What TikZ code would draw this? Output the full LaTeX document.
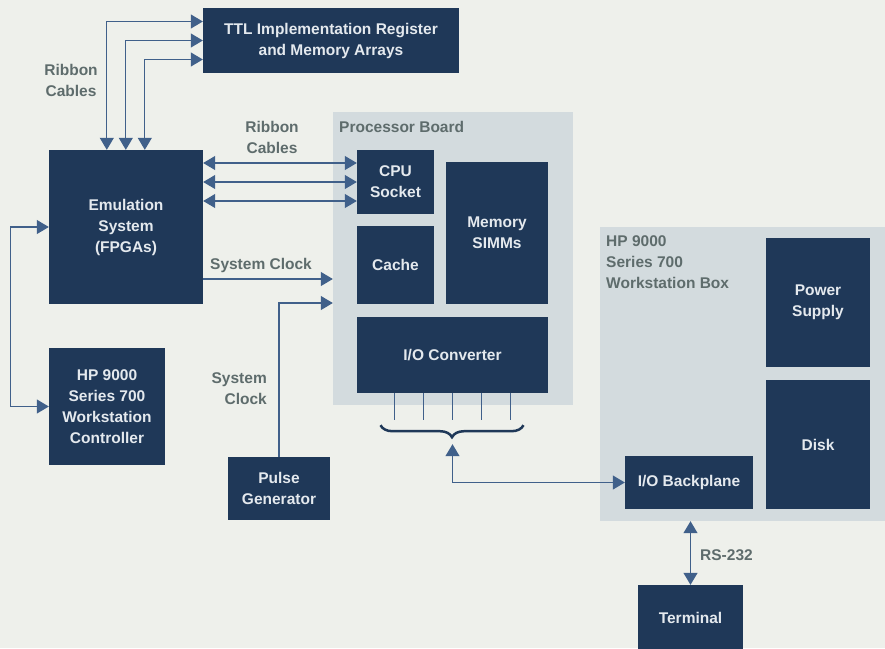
\documentclass[tikz,border=0pt]{standalone}
\usepackage{fontspec}
\setmainfont{Liberation Sans}
\usetikzlibrary{arrows.meta,decorations.pathreplacing}
\definecolor{paper}{HTML}{EEF0EB}
\definecolor{areagray}{HTML}{D3DBDE}
\definecolor{navy}{HTML}{1F3858}
\definecolor{boxtext}{HTML}{E4E9EE}
\definecolor{lbltext}{HTML}{5E6C6C}
\definecolor{wire}{HTML}{40608A}

\begin{document}
\begin{tikzpicture}[x=1pt,y=-1pt,
  box/.style={fill=navy,text=boxtext,font=\bfseries\fontsize{15.5}{21}\selectfont,align=center,inner sep=0pt},
  area/.style={fill=areagray,inner sep=0pt},
  lbl/.style={text=lbltext,font=\bfseries\fontsize{15.5}{21}\selectfont,align=center,inner sep=0pt},
  link/.style={draw=wire,line width=1.2pt},
  dbl/.style={link,{Triangle[length=12pt,width=14pt]}-{Triangle[length=12pt,width=14pt]}},
  sgl/.style={link,-{Triangle[length=12pt,width=14pt]}}]
\useasboundingbox[fill=paper] (0,0) rectangle (885,648);

% shaded areas
\node[area,minimum width=240pt,minimum height=293pt] (pboard) at (453,258.5) {};
\node[area,minimum width=295pt,minimum height=294pt] (wsbox) at (747.5,374) {};

% blocks
\node[box,minimum width=256pt,minimum height=65pt] (ttl) at (331,40.5) {TTL Implementation Register\\and Memory Arrays};
\node[box,minimum width=154pt,minimum height=154pt] (emu) at (126,227) {Emulation\\System\\(FPGAs)};
\node[box,minimum width=116pt,minimum height=117pt] (ctrl) at (107,406.5) {HP 9000\\Series 700\\Workstation\\Controller};
\node[box,minimum width=102pt,minimum height=63pt] (pulse) at (279,488.5) {Pulse\\Generator};
\node[box,minimum width=77pt,minimum height=64pt] (cpu) at (395.5,182) {CPU\\Socket};
\node[box,minimum width=77pt,minimum height=78pt] (cache) at (395.5,265) {Cache};
\node[box,minimum width=102pt,minimum height=142pt] (simm) at (497,233) {Memory\\SIMMs};
\node[box,minimum width=191pt,minimum height=76pt] (ioc) at (452.5,355) {I/O Converter};
\node[box,minimum width=104pt,minimum height=129pt] (psu) at (818,302.5) {Power\\Supply};
\node[box,minimum width=104pt,minimum height=129pt] (disk) at (818,444.5) {Disk};
\node[box,minimum width=128pt,minimum height=53pt] (iob) at (689,482.5) {I/O Backplane};
\node[box,minimum width=105pt,minimum height=65pt] (term) at (690.5,617.5) {Terminal};

% labels
\node[lbl] (rib1) at (71,80) {Ribbon\\Cables};
\node[lbl] (rib2) at (272,137) {Ribbon\\Cables};
\node[lbl,anchor=west] (pblabel) at (339,127) {Processor Board};
\node[lbl] (clk1) at (261,265) {System Clock};
\node[lbl,align=right,anchor=east] (clk2) at (267,388.5) {System\\Clock};
\node[lbl,align=left,anchor=west] (wslabel) at (606,262.5) {HP 9000\\Series 700\\Workstation Box};
\node[lbl,anchor=west] (rs) at (700,555) {RS-232};

% ribbon cables
\foreach \dx/\dy in {58/19,77/0,96/-19}
  \draw[dbl] ([xshift=\dx pt]emu.north west) |- ([yshift=\dy pt]ttl.west);
\foreach \dy in {19,0,-19}
  \draw[dbl] ([yshift=\dy pt]cpu.west -| emu.east) -- ([yshift=\dy pt]cpu.west);

% clocks
\draw[sgl] ([yshift=-52pt]emu.east) -- ([yshift=-52pt]emu.east -| pboard.west);
\draw[sgl] (pulse.north) |- ([yshift=-76pt]emu.east -| pboard.west);
\draw[dbl] (emu.west) -- ++(-38,0) |- (ctrl.west);

% I/O pins and bus
\foreach \dx in {-58,-29,0,29,58}
  \draw[link,line width=0.8pt] ([xshift=\dx pt]ioc.south) -- ++(0,27);
\draw[navy,line width=2.5pt,decorate,decoration={brace,mirror,amplitude=12pt}]
  ([xshift=-72pt,yshift=-32pt]ioc.south) -- ([xshift=71pt,yshift=-32pt]ioc.south);
\coordinate (bus) at ([yshift=-51pt]ioc.south);
\draw[dbl] (bus) |- (iob.west);
\draw[dbl] (wsbox.south -| term.north) -- (term.north);
\end{tikzpicture}
\end{document}
